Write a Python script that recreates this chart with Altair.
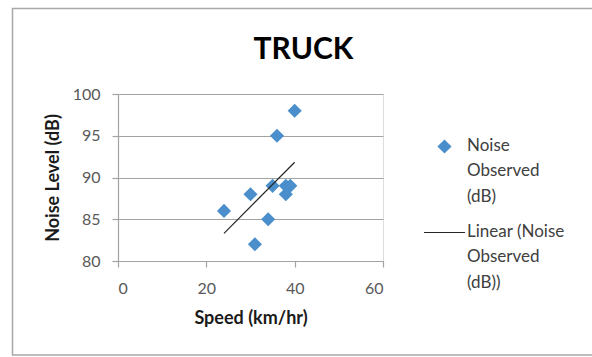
import altair as alt
import pandas as pd

# ---- data ----
speed = [24, 30, 31, 34, 35, 36, 38, 39, 38, 40]
noise = [86, 88, 82, 85, 89, 95, 89, 89, 88, 98]
series_name = "Noise Observed (dB)"
trend_name = "Linear (Noise Observed (dB))"
x_ticks = [0, 20, 40, 60]
y_ticks = [80, 85, 90, 95, 100]
chart_title = "TRUCK"
x_title = "Speed (km/hr)"
y_title = "Noise Level (dB)"

df = pd.DataFrame({"speed": speed, "noise": noise, "series": [series_name] * len(speed)})

FONT = "Lato"
BLUE = "#4A8FCC"
GRID = "#a3a3a3"
LABEL = "#595959"
LDY = 4  # vertical nudge of guide labels (compensated on the axes)

label_expr = "split(replace(datum.label, ' Observed ', '|Observed|'), '|')"

x_enc = alt.X(
    "speed:Q",
    scale=alt.Scale(domain=[0, 60], nice=False),
    axis=alt.Axis(
        values=x_ticks, grid=False, title=x_title,
        domainColor=GRID, tickColor=GRID, tickSize=6, domainWidth=1.2, tickWidth=1.2,
        labelFont=FONT, labelFontSize=16, labelColor=LABEL, labelPadding=13 - LDY,
        titleFont=FONT, titleFontSize=18, titleFontWeight="bold", titleColor="#1a1a1a",
        titlePadding=13,
    ),
)
y_enc = alt.Y(
    "noise:Q",
    scale=alt.Scale(domain=[80, 100], nice=False, zero=False),
    axis=alt.Axis(
        values=y_ticks, grid=True, gridColor=GRID, gridWidth=1.2, title=y_title,
        domainColor=GRID, tickColor=GRID, tickSize=6, domainWidth=1.2, tickWidth=1.2,
        labelFont=FONT, labelFontSize=16, labelColor=LABEL, labelPadding=12,
        labelOffset=-LDY,
        titleFont=FONT, titleFontSize=18, titleFontWeight="bold", titleColor="#1a1a1a",
        titlePadding=10,
    ),
)

points = alt.Chart(df).mark_point(filled=True, size=200, opacity=1, color=BLUE).encode(
    x=x_enc,
    y=y_enc,
    shape=alt.Shape(
        "series:N",
        scale=alt.Scale(domain=[series_name], range=["diamond"]),
        legend=alt.Legend(
            title=None, orient="none", legendX=318, legendY=44, padding=0,
            labelExpr=label_expr, labelFont=FONT, labelFontSize=17, labelColor="#404040",
            labelOffset=14, labelLimit=0, symbolSize=200, symbolFillColor=BLUE,
            symbolStrokeWidth=0, labelBaseline="alphabetic",
        ),
    ),
)

trend = (
    alt.Chart(df)
    .transform_regression("speed", "noise")
    .transform_calculate(trend="'" + trend_name + "'")
    .mark_line(strokeWidth=1.2)
    .encode(
        x="speed:Q",
        y="noise:Q",
        color=alt.Color(
            "trend:N",
            scale=alt.Scale(domain=[trend_name], range=["#262626"]),
            legend=alt.Legend(
                title=None, orient="none", legendX=305, legendY=117, padding=0,
                labelExpr=label_expr, labelFont=FONT, labelFontSize=17, labelColor="#404040",
                labelOffset=1, labelLimit=0, symbolType="stroke", symbolSize=1681,
                symbolStrokeWidth=1.2, labelBaseline="alphabetic",
            ),
        ),
    )
)

frame = alt.Chart(pd.DataFrame({"k": [0]})).mark_rect(
    fill=None, stroke="#a8a8a8", strokeWidth=1.5
).encode(
    x=alt.value(12.5 - 118), x2=alt.value(640 - 118),
    y=alt.value(8.5 - 94), y2=alt.value(355 - 94),
)

chart = (
    alt.layer(frame, points, trend)
    .resolve_legend(shape="independent", color="independent")
    .properties(
        width=265, height=167,
        padding={"left": 118, "top": 94, "right": 209, "bottom": 96},
        autosize=alt.AutoSizeParams(type="none"),
        title=alt.TitleParams(
            chart_title, font=FONT, fontSize=30, fontWeight="bold", color="#000000",
            anchor="middle", dx=53, offset=-81, baseline="alphabetic",
        ),
    )
    .configure_view(stroke=None)
    .configure(background="white",
               style={"guide-label": {"lineHeight": 25.5, "dy": LDY}})
)

chart.save("out.html", embed_options={"renderer": "svg", "actions": False})
